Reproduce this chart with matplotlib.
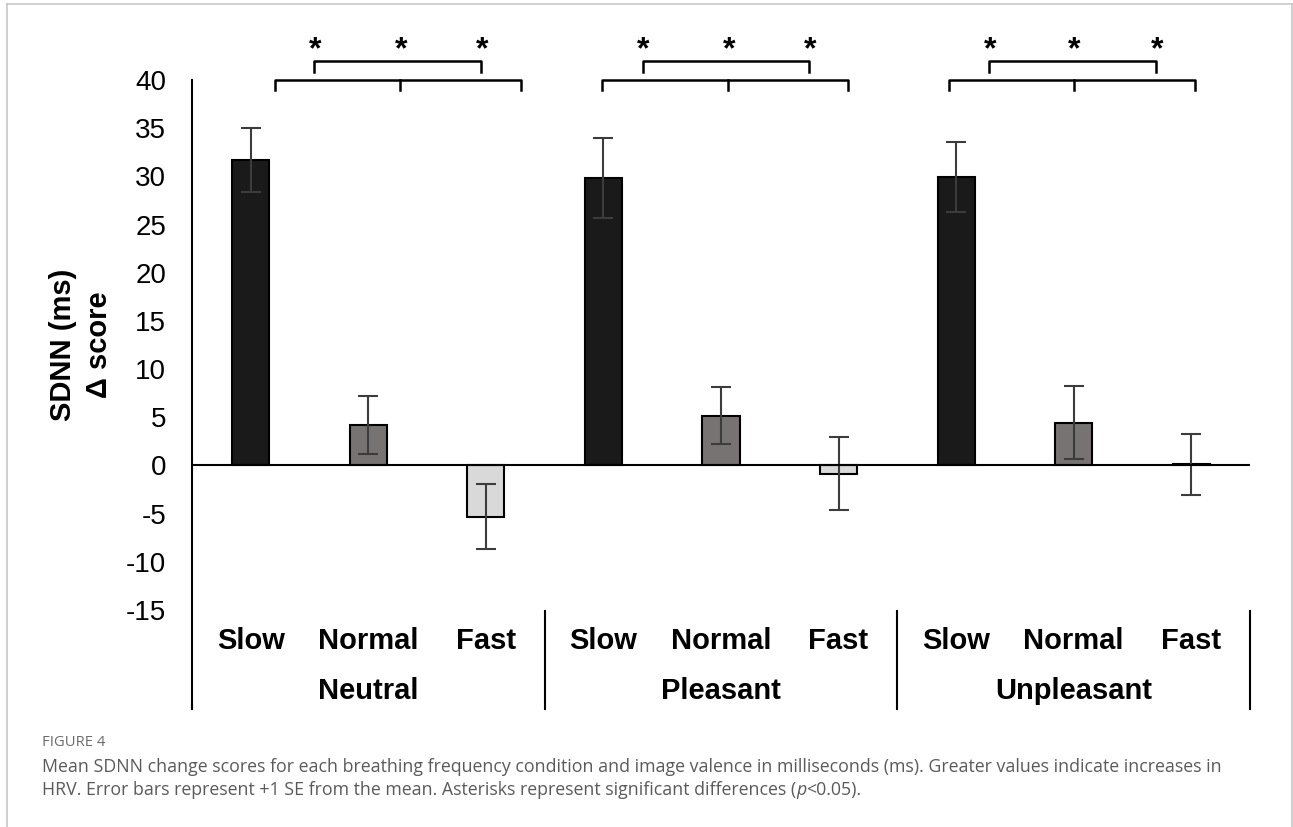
import numpy as np
import matplotlib
matplotlib.use('Agg')
import matplotlib.pyplot as plt
from matplotlib.lines import Line2D
from matplotlib.transforms import blended_transform_factory

# data
valences = ['Neutral', 'Pleasant', 'Unpleasant']
speeds = ['Slow', 'Normal', 'Fast']
means = [31.7, 4.2, -5.3,
         29.8, 5.15, -0.85,
         29.95, 4.45, 0.1]
se = [3.35, 3.0, 3.35,
      4.15, 2.95, 3.8,
      3.6, 3.75, 3.15]
yticks = [40, 35, 30, 25, 20, 15, 10, 5, 0, -5, -10, -15]
bar_colors = ['#1b1a1a', '#787373', '#d9d9d9']

# significance brackets (x in category units) per valence
big_brackets = [(0.21, 1.27, 2.30), (2.99, 4.06, 5.08), (5.94, 7.0, 8.03)]
small_brackets = [(0.54, 1.96), (3.34, 4.75), (6.28, 7.70)]
star_x = [(0.55, 1.28, 1.97), (3.34, 4.07, 4.76), (6.29, 7.0, 7.71)]

plt.rcParams['font.family'] = ['Liberation Sans', 'DejaVu Sans']

fig = plt.figure(figsize=(12.93, 8.27), dpi=100)
W, H = 1293, 827
ax = fig.add_axes([192 / W, 1 - 610 / H, (1250 - 192) / W, 530 / H])

x = np.arange(len(means))
colors = bar_colors * len(valences)
ax.bar(x, means, width=0.315, color=colors, edgecolor='black', linewidth=1.5, zorder=2)
ax.errorbar(x, means, yerr=se, fmt='none', ecolor='#3c3c3c', elinewidth=1.5,
            capsize=7, capthick=1.5, zorder=3)
ax.axhline(0, color='black', lw=1.5, zorder=4)

ax.set_xlim(-0.5, 8.5)
ax.set_ylim(-15, 40)
ax.set_yticks(yticks)
ax.set_yticklabels([str(t) for t in yticks], fontsize=20)
ax.tick_params(axis='y', length=0, pad=18.5)
ax.set_xticks([])
for s in ax.spines.values():
    s.set_visible(False)

# y axis line running down through the label area
ax.plot([0, 0], [-0.187, 1], transform=ax.transAxes, color='black', lw=1.5, clip_on=False)

tr = blended_transform_factory(ax.transData, ax.transAxes)
for xs in [2.5, 5.5, 8.5]:
    ax.plot([xs, xs], [-0.002, -0.187], transform=tr, color='black', lw=1.5, clip_on=False)

for i in range(len(means)):
    ax.text(i, -0.0585, speeds[i % 3], transform=tr, ha='center', va='center',
            fontsize=21, fontweight='bold')
for g, name in enumerate(valences):
    ax.text(3 * g + 1, -0.1528, name, transform=tr, ha='center', va='center',
            fontsize=21, fontweight='bold')

# brackets and asterisks
for g in range(3):
    l, m, r = big_brackets[g]
    ax.plot([l, l, r, r], [39.0, 40.0, 40.0, 39.0], color='black', lw=1.8, clip_on=False)
    ax.plot([m, m], [40.0, 39.0], color='black', lw=1.8, clip_on=False)
    l2, r2 = small_brackets[g]
    ax.plot([l2, l2, r2, r2], [40.8, 42.0, 42.0, 40.8], color='black', lw=1.8, clip_on=False)
    for sx in star_x[g]:
        ax.text(sx, 42.3, '*', ha='center', va='baseline', fontsize=23, fontweight='bold',
                clip_on=False)

# y label
fig.text(81 / W, 1 - 345 / H, 'SDNN (ms)\nΔ score', rotation=90, ha='center', va='center',
         multialignment='center', fontsize=21, fontweight='bold', linespacing=1.35)

# caption
cap_font = ['Open Sans', 'DejaVu Sans']
fig.text(42 / W, 1 - 743 / H, 'FIGURE 4', fontsize=10.6, color='#6b6b6b', family=cap_font,
         va='center')
fig.text(42 / W, 1 - 767 / H,
         'Mean SDNN change scores for each breathing frequency condition and image valence '
         'in milliseconds (ms). Greater values indicate increases in',
         fontsize=12.8, color='#5a5a5a', family=cap_font, va='center')

renderer = fig.canvas.get_renderer()
parts = [('HRV. Error bars represent +1 SE from the mean. Asterisks represent significant '
          'differences (', 'normal'), ('p', 'italic'), ('<0.05).', 'normal')]
xpos = 42
for txt, style in parts:
    t = fig.text(xpos / W, 1 - 790 / H, txt, fontsize=12.8, color='#5a5a5a', family=cap_font,
                 style=style, va='center')
    xpos += t.get_window_extent(renderer).width

# thin frame around the figure
frame_kw = dict(color='#c8c8c8', lw=1.2, transform=fig.transFigure)
fig.add_artist(Line2D([7 / W, 1291.5 / W], [1 - 4 / H, 1 - 4 / H], **frame_kw))
fig.add_artist(Line2D([7 / W, 7 / W], [0, 1 - 4 / H], **frame_kw))
fig.add_artist(Line2D([1291.5 / W, 1291.5 / W], [0, 1 - 4 / H], **frame_kw))

fig.savefig('out.png', dpi=100)
